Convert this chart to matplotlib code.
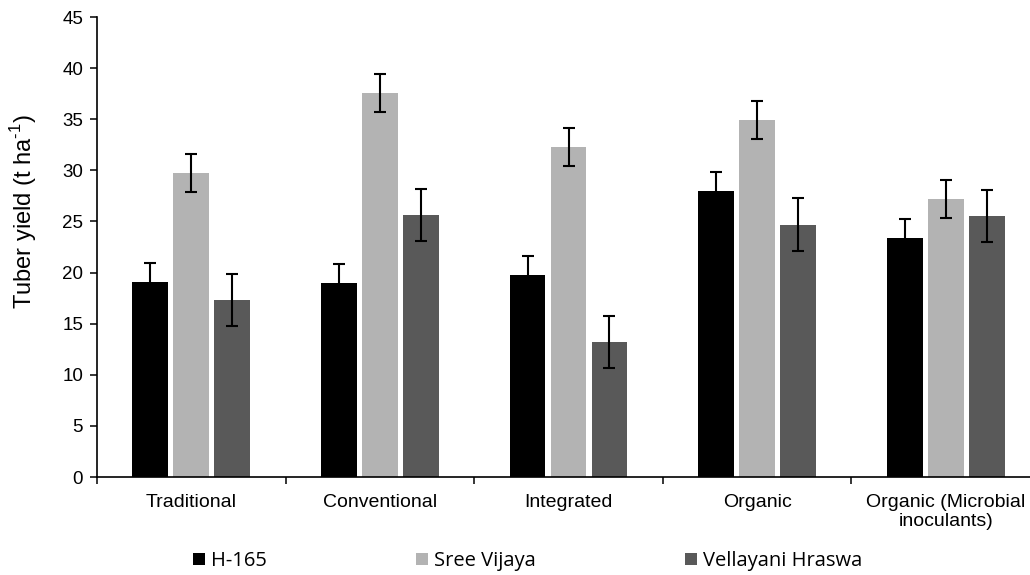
import numpy as np
import matplotlib
matplotlib.use("Agg")
import matplotlib.pyplot as plt

# Datos
tratamientos = ["Traditional", "Conventional", "Integrated", "Organic",
                "Organic (Microbial\ninoculants)"]
variedades = ["H-165", "Sree Vijaya", "Vellayani Hraswa"]

h165 = [19.1, 19.0, 19.8, 28.0, 23.4]
sree_vijaya = [29.7, 37.6, 32.3, 34.9, 27.2]
vellayani = [17.3, 25.6, 13.2, 24.7, 25.5]

err_h165 = [1.8, 1.8, 1.8, 1.8, 1.8]
err_sree = [1.85, 1.85, 1.85, 1.85, 1.85]
err_vell = [2.55, 2.55, 2.55, 2.55, 2.55]

colores = ["#000000", "#b3b3b3", "#595959"]

plt.rcParams["font.family"] = ["Liberation Sans", "DejaVu Sans"]
plt.rcParams["mathtext.fontset"] = "custom"
plt.rcParams["mathtext.rm"] = "Liberation Sans"

fig = plt.figure(figsize=(10.3, 5.75), dpi=100)
ax = fig.add_axes([97 / 1030, 1 - 477 / 575, (1040 - 97) / 1030, (477 - 17) / 575])

x = np.arange(len(tratamientos))
ancho = 0.19
paso = 0.217
series = [h165, sree_vijaya, vellayani]
errores = [err_h165, err_sree, err_vell]

for i, (vals, errs) in enumerate(zip(series, errores)):
    ax.bar(x + (i - 1) * paso, vals, width=ancho, color=colores[i],
           edgecolor="none", label=variedades[i], zorder=2)
    ax.errorbar(x + (i - 1) * paso, vals, yerr=errs, fmt="none",
                ecolor="black", elinewidth=1.5, capsize=4.5, capthick=1.5, zorder=3)

ax.set_xlim(-0.5, len(tratamientos) - 0.5)
ax.set_ylim(0, 45)
ax.set_yticks(np.arange(0, 46, 5))
ax.tick_params(axis="y", labelsize=13.5, length=5, width=1.1, pad=5)

ax.set_xticks(x)
ax.set_xticklabels(tratamientos, fontsize=14, linespacing=1.15)
ax.set_xticks(np.arange(-0.5, len(tratamientos), 1), minor=True)
ax.tick_params(axis="x", which="major", length=0, pad=12)
ax.tick_params(axis="x", which="minor", length=5, width=1.1)

for lado in ["top", "right"]:
    ax.spines[lado].set_visible(False)
for lado in ["left", "bottom"]:
    ax.spines[lado].set_linewidth(1.2)

# la etiqueta del eje Y está algo por encima del centro en el original
ax.set_ylabel(r"Tuber yield (t ha$^{\text{-1}}$)", fontsize=17)
ax.yaxis.set_label_coords(-0.062, 0.578)

fig.legend(loc="center", bbox_to_anchor=(528 / 1030, 1 - 561 / 575), ncol=3,
           frameon=False, prop={"family": "Open Sans", "size": 14.5},
           handlelength=0.6, handleheight=0.6, handletextpad=0.3,
           columnspacing=7.4)

fig.savefig("out.png", dpi=100)
